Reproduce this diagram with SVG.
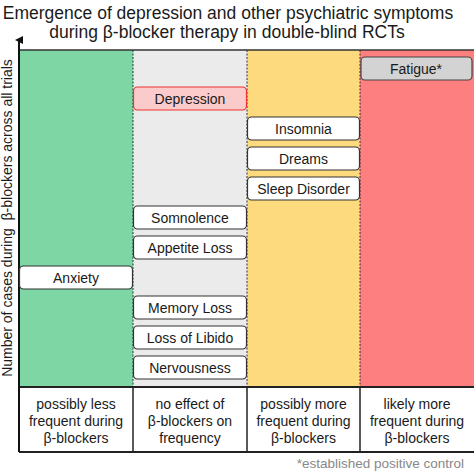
<svg xmlns="http://www.w3.org/2000/svg" width="474" height="474" viewBox="0 0 474 474">
<style>
text{font-family:"Liberation Sans",Arial,sans-serif;fill:#1a1a1a}
.t{font-size:17.5px;text-anchor:middle}
.n{font-size:14px;text-anchor:middle}
.b{font-size:14px;text-anchor:middle}
.box{fill:#fff;stroke:#333;stroke-width:1.2}
.sep{stroke:#333;stroke-width:1;stroke-dasharray:2,1.5}
</style>
<defs>
<marker id="ah" markerWidth="8" markerHeight="8" refX="4" refY="4" orient="auto" markerUnits="userSpaceOnUse">
<path d="M0,8 L4,0 L8,8 Z" fill="#111"/>
</marker>
</defs>
<rect width="474" height="474" fill="#fff"/>
<text class="t" x="228" y="19">Emergence of depression and other psychiatric symptoms</text>
<text class="t" x="227" y="38">during β-blocker therapy in double-blind RCTs</text>
<!-- columns -->
<rect x="19" y="50" width="114" height="337" fill="#7dd6a3"/>
<rect x="133" y="50" width="114" height="337" fill="#ebebeb"/>
<rect x="247" y="50" width="113" height="337" fill="#fdda7e"/>
<rect x="360" y="50" width="114" height="337" fill="#fe7f7f"/>
<line class="sep" x1="133" y1="50" x2="133" y2="387"/>
<line class="sep" x1="247" y1="50" x2="247" y2="387"/>
<line class="sep" x1="360" y1="50" x2="360" y2="387"/>
<line x1="19" y1="50" x2="474" y2="50" stroke="#333" stroke-width="1.5"/>
<line x1="19" y1="387" x2="474" y2="387" stroke="#222" stroke-width="2"/>
<line x1="19" y1="452" x2="474" y2="452" stroke="#222" stroke-width="2"/>
<line x1="133" y1="387" x2="133" y2="452" stroke="#222" stroke-width="1.5"/>
<line x1="247" y1="387" x2="247" y2="452" stroke="#222" stroke-width="1.5"/>
<line x1="360" y1="387" x2="360" y2="452" stroke="#222" stroke-width="1.5"/>
<line x1="19" y1="452" x2="19" y2="40" stroke="#111" stroke-width="2" marker-end="url(#ah)"/>
<text transform="translate(12,218) rotate(-90)" font-size="14" text-anchor="middle" xml:space="preserve">Number of cases during  β-blockers across all trials</text>
<g id="nodes">
<g id="fatigue"><rect x="361" y="57" width="111" height="23" rx="4" fill="#d3d3d3" stroke="#444" stroke-width="1.2"/><text class="n" x="416" y="74">Fatigue*</text></g>
<g id="depression"><rect x="133.5" y="87" width="113" height="23" rx="4" fill="#fbcaca" stroke="#e33" stroke-width="1.2"/><text class="n" x="190" y="104">Depression</text></g>
<g id="insomnia"><rect class="box" x="247.5" y="117" width="112" height="23" rx="4"/><text class="n" x="303.5" y="134">Insomnia</text></g>
<g id="dreams"><rect class="box" x="247.5" y="147" width="112" height="23" rx="4"/><text class="n" x="303.5" y="164">Dreams</text></g>
<g id="sleep"><rect class="box" x="247.5" y="177" width="112" height="23" rx="4"/><text class="n" x="303.5" y="194">Sleep Disorder</text></g>
<g id="somnolence"><rect class="box" x="133.5" y="206" width="113" height="23" rx="4"/><text class="n" x="190" y="223">Somnolence</text></g>
<g id="appetite"><rect class="box" x="133.5" y="236" width="113" height="23" rx="4"/><text class="n" x="190" y="253">Appetite Loss</text></g>
<g id="anxiety"><rect class="box" x="19.5" y="266" width="113" height="23" rx="4"/><text class="n" x="76" y="283">Anxiety</text></g>
<g id="memory"><rect class="box" x="133.5" y="296" width="113" height="23" rx="4"/><text class="n" x="190" y="313">Memory Loss</text></g>
<g id="libido"><rect class="box" x="133.5" y="326" width="113" height="23" rx="4"/><text class="n" x="190" y="343">Loss of Libido</text></g>
<g id="nervousness"><rect class="box" x="133.5" y="356" width="113" height="23" rx="4"/><text class="n" x="190" y="373">Nervousness</text></g>
</g>
<g id="labels">
<text class="b" x="76" y="409">possibly less</text><text class="b" x="76" y="426">frequent during</text><text class="b" x="76" y="443">β-blockers</text>
<text class="b" x="190" y="409">no effect of</text><text class="b" x="190" y="426">β-blockers on</text><text class="b" x="190" y="443">frequency</text>
<text class="b" x="303.5" y="409">possibly more</text><text class="b" x="303.5" y="426">frequent during</text><text class="b" x="303.5" y="443">β-blockers</text>
<text class="b" x="417" y="409">likely more</text><text class="b" x="417" y="426">frequent during</text><text class="b" x="417" y="443">β-blockers</text>
</g>
<text x="464" y="468" font-size="13.5" text-anchor="end" style="fill:#888">*established positive control</text>
</svg>
